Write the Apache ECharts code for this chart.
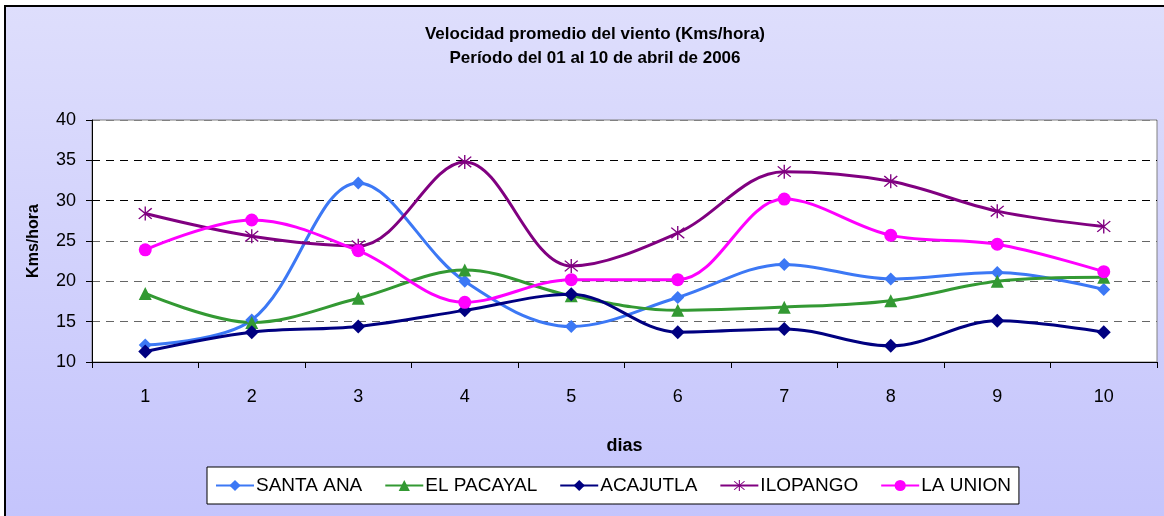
<!DOCTYPE html>
<html lang="es">
  <head>
    <meta charset="UTF-8" />
    <title>Velocidad promedio del viento</title>
    <script src="https://cdn.jsdelivr.net/npm/echarts@6/dist/echarts.min.js"></script>
  </head>
  <body style="margin: 0; background: #fff">
    <div id="container" style="width: 1164px; height: 516px"></div>
    <script>
      const dias = ["1", "2", "3", "4", "5", "6", "7", "8", "9", "10"];
      const santaAna = [12.1, 15.2, 32.2, 20.0, 14.4, 18.0, 22.1, 20.3, 21.1, 19.0];
      const elPacayal = [18.5, 14.9, 17.9, 21.4, 18.2, 16.4, 16.8, 17.6, 20.0, 20.5];
      const acajutla = [11.3, 13.7, 14.4, 16.4, 18.4, 13.7, 14.1, 12.0, 15.1, 13.7];
      const ilopango = [28.4, 25.6, 24.4, 34.8, 21.9, 26.0, 33.6, 32.4, 28.7, 26.8];
      const laUnion = [23.9, 27.6, 23.8, 17.4, 20.2, 20.2, 30.2, 25.7, 24.6, 21.2];

      // asterisco: vertical + dos diagonales
      const asterisk =
        "path://M9.2,0L10.8,0L10.8,20L9.2,20Z" +
        "M1.8,3L3,1.8L18.2,17L17,18.2Z" +
        "M17,1.8L18.2,3L3,18.2L1.8,17Z";

      function serie(name, data, color, symbol, size) {
        return {
          name: name,
          type: "line",
          data: data,
          smooth: 0.35,
          symbol: symbol,
          symbolSize: size,
          showAllSymbol: true,
          itemStyle: { color: color },
          lineStyle: { color: color, width: 3 },
          z: 3
        };
      }

      const myChart = echarts.init(document.getElementById("container"));
      const font = "Liberation Sans, Arial, sans-serif";
      const option = {
        animation: false,
        backgroundColor: "#fff",
        graphic: [
          {
            type: "rect",
            z: -10,
            shape: { x: 5, y: 6, width: 1200, height: 600 },
            style: {
              fill: {
                type: "linear", x: 0, y: 0, x2: 0, y2: 1,
                colorStops: [
                  { offset: 0, color: "#dedefc" },
                  { offset: 1, color: "#c0c0fc" }
                ]
              },
              stroke: "#000",
              lineWidth: 2
            }
          }
        ],
        title: {
          text: "Velocidad promedio del viento (Kms/hora)\nPeríodo del 01 al 10 de abril de 2006",
          left: 590,
          textAlign: "center",
          top: 17,
          textStyle: {
            fontFamily: font,
            fontSize: 17,
            fontWeight: "bold",
            color: "#000",
            lineHeight: 24
          }
        },
        legend: {
          left: 207,
          top: 467,
          width: 813,
          height: 39,
          padding: [9, 8, 9, 8],
          itemGap: 22,
          itemWidth: 38,
          itemHeight: 14,
          backgroundColor: "#fff",
          borderColor: "#000",
          borderWidth: 1,
          textStyle: { fontFamily: font, fontSize: 19, color: "#000", padding: [0, 0, 0, -3] },
          data: ["SANTA ANA", "EL PACAYAL", "ACAJUTLA", "ILOPANGO", "LA UNION"]
        },
        grid: {
          left: 92,
          right: 7,
          top: 120,
          bottom: 154,
          show: true,
          backgroundColor: "#fff",
          borderColor: "#808080",
          borderWidth: 1
        },
        xAxis: {
          type: "category",
          data: dias,
          boundaryGap: true,
          name: "dias",
          nameLocation: "middle",
          nameGap: 75,
          nameTextStyle: { fontFamily: font, fontSize: 18, fontWeight: "bold", color: "#000" },
          axisLine: { lineStyle: { color: "#000", width: 1 } },
          axisTick: { show: true, length: 6, inside: false, lineStyle: { color: "#000" } },
          axisLabel: { fontFamily: font, fontSize: 18, color: "#000", margin: 26 },
          splitLine: { show: false }
        },
        yAxis: {
          type: "value",
          min: 10,
          max: 40,
          interval: 5,
          name: "Kms/hora",
          nameLocation: "middle",
          nameGap: 50,
          nameRotate: 90,
          nameTextStyle: { fontFamily: font, fontSize: 16, fontWeight: "bold", color: "#000" },
          axisLine: { show: true, lineStyle: { color: "#000", width: 1 } },
          axisTick: { show: true, length: 6, lineStyle: { color: "#000" } },
          axisLabel: { fontFamily: font, fontSize: 18, color: "#000", margin: 16 },
          splitLine: {
            show: true,
            lineStyle: {
              color: ["#000", "#666", "#666", "#666", "#000", "#000", "#808080"],
              type: [8, 6],
              width: 1.2
            }
          }
        },
        series: [
          serie("SANTA ANA", santaAna, "#3c78f5", "diamond", 13),
          serie("EL PACAYAL", elPacayal, "#339933", "triangle", 13),
          serie("ACAJUTLA", acajutla, "#000080", "diamond", 14),
          serie("ILOPANGO", ilopango, "#800080", asterisk, 14),
          serie("LA UNION", laUnion, "#ff00ff", "circle", 13)
        ]
      };
      myChart.setOption(option);
    </script>
  </body>
</html>
